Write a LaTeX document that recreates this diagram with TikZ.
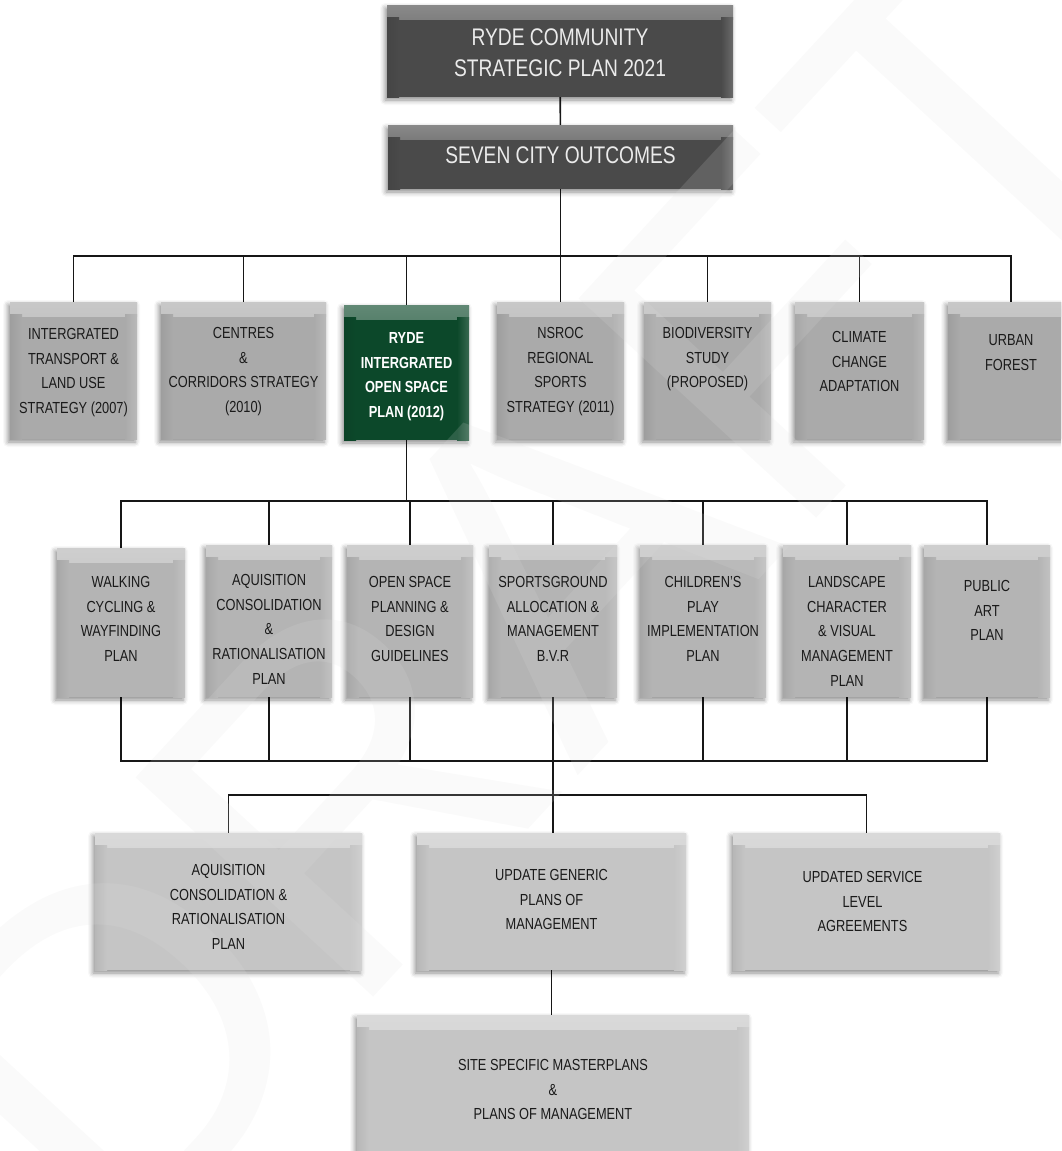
\documentclass[tikz,border=0pt]{standalone}
\usepackage{fontspec}
\setmainfont{Liberation Sans}[FakeStretch=0.8]
\newfontfamily\wmfont{Liberation Sans}
\usetikzlibrary{fit,shadows.blur}
\pgfdeclarelayer{background}
\pgfsetlayers{background,main}

\definecolor{slate}{RGB}{74,74,74}
\definecolor{stone}{RGB}{170,170,170}
\definecolor{pebble}{RGB}{180,180,180}
\definecolor{mist}{RGB}{197,197,197}
\definecolor{forest}{RGB}{12,72,42}
\definecolor{ink}{RGB}{26,26,26}
\definecolor{wirecol}{RGB}{22,22,22}

\tikzset{
  panel/.style={inner sep=0, fill=#1,
    blur shadow={shadow xshift=-2pt, shadow yshift=-3pt, shadow blur radius=5pt, shadow opacity=45},
    path picture={
      \shade[top color=white!35!#1, bottom color=#1]
        (path picture bounding box.north west) rectangle ([yshift=-14pt]path picture bounding box.north east);
      \shade[left color=#1, right color=white!18!#1]
        ([xshift=-12pt,yshift=-12pt]path picture bounding box.north east) rectangle (path picture bounding box.south east);
      \shade[left color=black!7!#1, right color=#1]
        ([yshift=-12pt]path picture bounding box.north west) rectangle ([xshift=12pt]path picture bounding box.south west);
    }},
  tag/.style={align=center, inner sep=0, anchor=north, text=ink,
    font=\fontsize{16}{24.8}\selectfont},
  headtag/.style={tag, text=white!92!black, font=\fontsize{24}{31}\selectfont},
  greentag/.style={tag, text=white, font=\bfseries\fontsize{16}{24.8}\selectfont},
  wire/.style={draw=wirecol, line width=1.6pt, line cap=rect}
}

\begin{document}
\begin{tikzpicture}[x=1pt, y=-1pt]
\clip (0,0) rectangle (1061,1151);

% ---- boxes ----
\node[panel=slate, fit={(387,5) (733,97)}] (plan) {};
\node[panel=slate, fit={(388,125) (733,189)}] (outcomes) {};

\node[panel=stone, fit={(10,302) (137,439)}] (o1) {};
\node[panel=stone, fit={(161,302) (326,439)}] (o2) {};
\node[panel=forest, fit={(344,305) (469,440)}] (g) {};
\node[panel=stone, fit={(497,302) (624,439)}] (o4) {};
\node[panel=stone, fit={(644,302) (771,439)}] (o5) {};
\node[panel=stone, fit={(795,302) (924,439)}] (o6) {};
\node[panel=stone, fit={(948,302) (1074,439)}] (o7) {};

\node[panel=pebble, fit={(57,548) (185,697)}] (s1) {};
\node[panel=pebble, fit={(206,545) (332,697)}] (s2) {};
\node[panel=pebble, fit={(347,545) (473,697)}] (s3) {};
\node[panel=pebble, fit={(489,545) (617,697)}] (s4) {};
\node[panel=pebble, fit={(640,545) (766,697)}] (s5) {};
\node[panel=pebble, fit={(783,545) (911,697)}] (s6) {};
\node[panel=pebble, fit={(924,545) (1050,697)}] (s7) {};

\node[panel=mist, fit={(95,833) (362,970)}] (u1) {};
\node[panel=mist, fit={(417,833) (686,970)}] (u2) {};
\node[panel=mist, fit={(733,833) (1000,970)}] (u3) {};
\node[panel=mist, fit={(357,1015) (749,1180)}] (site) {};

% ---- connectors ----
\coordinate (busA) at (0,256);
\coordinate (busB) at (0,501);
\coordinate (busC) at (0,761);
\coordinate (busD) at (0,795);
\begin{pgfonlayer}{background}
  \draw[wire] (plan) -- (outcomes);
  \draw[wire] (outcomes) -- (outcomes |- busA);
  \draw[wire] (o1 |- busA) -- (o7 |- busA);
  \foreach \n in {o1,o2,g,o4,o5,o6,o7}
    \draw[wire] (\n |- busA) -- (\n);
  \draw[wire] (g) -- (g |- busB);
  \draw[wire] (s1 |- busB) -- (s7 |- busB);
  \foreach \n in {s1,s2,s3,s4,s5,s6,s7} {
    \draw[wire] (\n |- busB) -- (\n);
    \draw[wire] (\n) -- (\n |- busC);
  }
  \draw[wire] (s1 |- busC) -- (s7 |- busC);
  \draw[wire] (s4 |- busC) -- (s4 |- u2.north);
  \draw[wire] (u1 |- busD) -- (u3 |- busD);
  \draw[wire] (u1 |- busD) -- (u1);
  \draw[wire] (u3 |- busD) -- (u3);
  \draw[wire] (u2.south) -- (u2.south |- site.north);
\end{pgfonlayer}

% ---- watermark ----
\node[rotate=47.3, inner sep=0, text=gray!25, opacity=.16,
      font=\wmfont\fontsize{470}{470}\selectfont] (wm) at (530,590) {DRAFT};

% ---- labels ----
\node[headtag] (planT) at (plan.north |- 0,28.5) {RYDE COMMUNITY\\STRATEGIC PLAN 2021};
\node[headtag] (outcomesT) at (outcomes.north |- 0,146.5) {SEVEN CITY OUTCOMES};

\node[tag] (o1T) at (o1.north |- 0,328) {INTERGRATED\\TRANSPORT \&\\LAND USE\\STRATEGY (2007)};
\node[tag] (o2T) at (o2.north |- 0,327) {CENTRES\\\&\\CORRIDORS STRATEGY\\(2010)};
\node[greentag] (gT) at (g.north |- 0,332) {RYDE\\INTERGRATED\\OPEN SPACE\\PLAN (2012)};
\node[tag] (o4T) at (o4.north |- 0,327) {NSROC\\REGIONAL\\SPORTS\\STRATEGY (2011)};
\node[tag] (o5T) at (o5.north |- 0,327) {BIODIVERSITY\\STUDY\\(PROPOSED)};
\node[tag] (o6T) at (o6.north |- 0,331) {CLIMATE\\CHANGE\\ADAPTATION};
\node[tag] (o7T) at (o7.north |- 0,334) {URBAN\\FOREST};

\node[tag] (s1T) at (s1.north |- 0,576) {WALKING\\CYCLING \&\\WAYFINDING\\PLAN};
\node[tag] (s2T) at (s2.north |- 0,574) {AQUISITION\\CONSOLIDATION\\\&\\RATIONALISATION\\PLAN};
\node[tag] (s3T) at (s3.north |- 0,576) {OPEN SPACE\\PLANNING \&\\DESIGN\\GUIDELINES};
\node[tag] (s4T) at (s4.north |- 0,576) {SPORTSGROUND\\ALLOCATION \&\\MANAGEMENT\\B.V.R};
\node[tag] (s5T) at (s5.north |- 0,576) {CHILDREN'S\\PLAY\\IMPLEMENTATION\\PLAN};
\node[tag] (s6T) at (s6.north |- 0,576) {LANDSCAPE\\CHARACTER\\\& VISUAL\\MANAGEMENT\\PLAN};
\node[tag] (s7T) at (s7.north |- 0,580) {PUBLIC\\ART\\PLAN};

\node[tag] (u1T) at (u1.north |- 0,864) {AQUISITION\\CONSOLIDATION \&\\RATIONALISATION\\PLAN};
\node[tag] (u2T) at (u2.north |- 0,869) {UPDATE GENERIC\\PLANS OF\\MANAGEMENT};
\node[tag] (u3T) at ([xshift=-4pt]u3.north |- 0,871) {UPDATED SERVICE\\LEVEL\\AGREEMENTS};
\node[tag] (siteT) at (site.north |- 0,1059) {SITE SPECIFIC MASTERPLANS\\\&\\PLANS OF MANAGEMENT};
\end{tikzpicture}
\end{document}
